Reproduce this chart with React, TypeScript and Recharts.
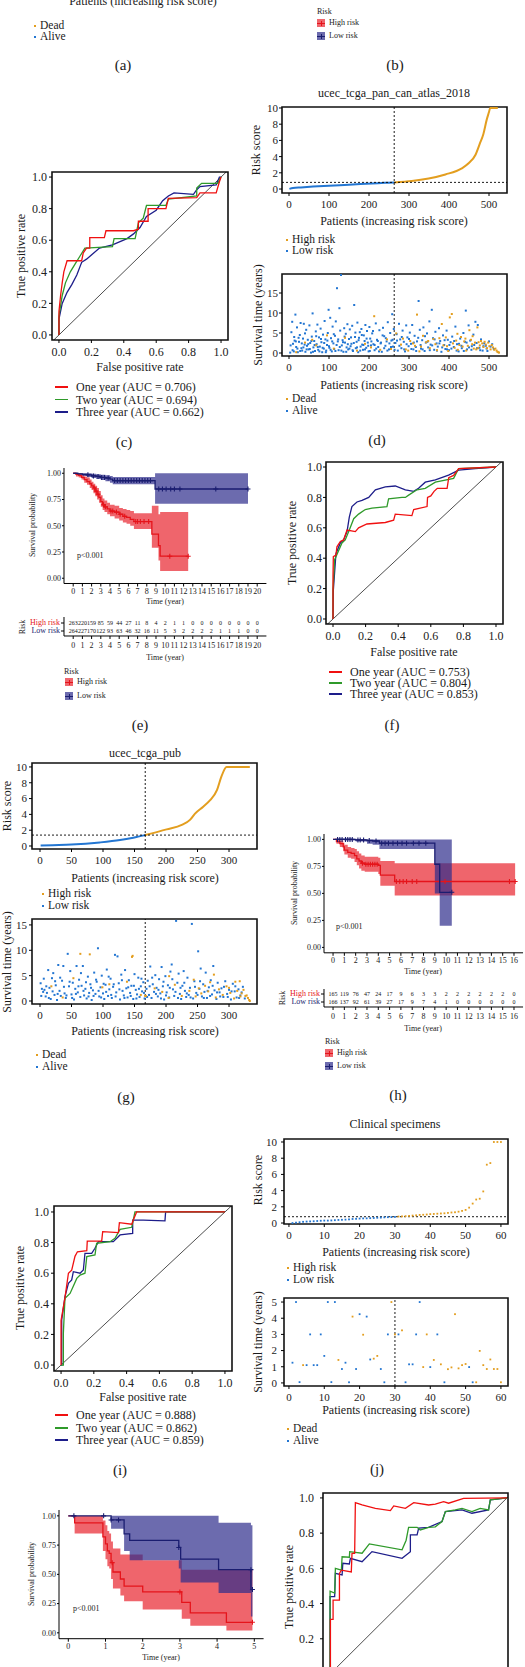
import React from "react";
import { ComposedChart, Line, Area, Scatter, XAxis, YAxis, ReferenceLine, ReferenceArea } from "recharts";

const FONT = '"Liberation Serif", "DejaVu Serif", serif';
const ORANGE = "#E39E1F";
const BLUE = "#2376D2";
const ROC_RED = "#F01010";
const ROC_GREEN = "#2F9A2A";
const ROC_NAVY = "#1D1D8A";
const KM_RED = "#E5141B";
const KM_RED_FILL = "#E8232E";
const KM_NAVY = "#1A1D70";
const KM_NAVY_FILL = "#2E2C8C";

// ---------- ticks ----------
const PAN_X_TICKS = [0, 100, 200, 300, 400, 500];
const PUB_X_TICKS = [0, 50, 100, 150, 200, 250, 300];
const CLIN_X_TICKS = [0, 10, 20, 30, 40, 50, 60];
const RISK_Y_TICKS = [0, 2, 4, 6, 8, 10];
const SURV_Y_TICKS = [0, 5, 10, 15];
const CLIN_SURV_TICKS = [0, 1, 2, 3, 4, 5];
const ROC_TICKS = [0, 0.2, 0.4, 0.6, 0.8, 1];
const ROC_TICKS_CUT = [0.2, 0.4, 0.6, 0.8, 1];
const KM_Y_TICKS = [0, 0.25, 0.5, 0.75, 1];
const E_YEARS = [0, 1, 2, 3, 4, 5, 6, 7, 8, 9, 10, 11, 12, 13, 14, 15, 16, 17, 18, 19, 20];
const H_YEARS = [0, 1, 2, 3, 4, 5, 6, 7, 8, 9, 10, 11, 12, 13, 14, 15, 16];
const K_YEARS = [0, 1, 2, 3, 4, 5];

// ---------- ROC (c) ----------
const YEAR_NAMES = ["One year", "Two year", "Three year"];
const cAuc = [0.706, 0.694, 0.662];
const cRedX = [0, 0, 0.01, 0.02, 0.03, 0.05, 0.14, 0.15, 0.17, 0.19, 0.19, 0.28, 0.29, 0.46, 0.49, 0.49, 0.55, 0.55, 0.66, 0.675, 0.85, 0.87, 0.97, 0.99, 1];
const cRedY = [0, 0.15, 0.25, 0.33, 0.4, 0.47, 0.47, 0.52, 0.55, 0.55, 0.616, 0.616, 0.66, 0.66, 0.67, 0.72, 0.72, 0.8, 0.8, 0.865, 0.87, 0.9, 0.9, 0.97, 1];
const cGreenX = [0, 0, 0.02, 0.04, 0.07, 0.1, 0.13, 0.16, 0.33, 0.34, 0.47, 0.49, 0.52, 0.54, 0.66, 0.675, 0.85, 0.85, 0.88, 0.98, 1];
const cGreenY = [0, 0.12, 0.25, 0.33, 0.4, 0.45, 0.5, 0.55, 0.56, 0.61, 0.61, 0.71, 0.74, 0.82, 0.82, 0.86, 0.88, 0.93, 0.96, 0.96, 1];
const cNavyX = [0, 0, 0.02, 0.05, 0.08, 0.11, 0.14, 0.17, 0.25, 0.33, 0.42, 0.46, 0.5, 0.54, 0.6, 0.64, 0.675, 0.71, 0.83, 0.85, 0.87, 0.97, 0.99, 1];
const cNavyY = [0, 0.1, 0.2, 0.27, 0.32, 0.38, 0.46, 0.48, 0.55, 0.57, 0.61, 0.64, 0.68, 0.75, 0.79, 0.85, 0.88, 0.9, 0.89, 0.92, 0.94, 0.95, 1, 1];

// ---------- ROC (f) ----------
const fAuc = [0.753, 0.804, 0.853];
const fRedX = [0, 0, 0.002, 0.018, 0.024, 0.045, 0.065, 0.086, 0.137, 0.157, 0.208, 0.321, 0.372, 0.382, 0.484, 0.495, 0.577, 0.58, 0.6, 0.62, 0.64, 0.7, 0.71, 0.74, 0.771, 1];
const fRedY = [0, 0.28, 0.41, 0.42, 0.475, 0.51, 0.52, 0.585, 0.575, 0.6, 0.625, 0.635, 0.65, 0.69, 0.68, 0.72, 0.74, 0.8, 0.81, 0.84, 0.86, 0.86, 0.93, 0.945, 0.99, 1];
const fGreenX = [0, 0, 0.01, 0.055, 0.075, 0.1, 0.127, 0.157, 0.198, 0.239, 0.331, 0.341, 0.423, 0.444, 0.464, 0.515, 0.566, 0.628, 0.74, 0.771, 1];
const fGreenY = [0, 0.19, 0.39, 0.5, 0.52, 0.585, 0.66, 0.69, 0.72, 0.73, 0.74, 0.79, 0.8, 0.8, 0.815, 0.85, 0.86, 0.9, 0.925, 0.99, 1];
const fNavyX = [0, 0.002, 0.018, 0.045, 0.065, 0.086, 0.1, 0.116, 0.147, 0.178, 0.219, 0.26, 0.321, 0.382, 0.444, 0.495, 0.525, 0.566, 0.628, 0.709, 0.771, 0.873, 1];
const fNavyY = [0, 0.19, 0.43, 0.5, 0.52, 0.575, 0.67, 0.74, 0.77, 0.78, 0.8, 0.85, 0.87, 0.875, 0.85, 0.84, 0.86, 0.9, 0.915, 0.947, 0.98, 0.99, 1];

// ---------- ROC (i) ----------
const iAuc = [0.888, 0.862, 0.859];
const iRedX = [0, 0, 0, 0.024, 0.045, 0.065, 0.085, 0.1, 0.157, 0.16, 0.248, 0.254, 0.35, 0.356, 0.431, 0.441, 0.461, 1];
const iRedY = [0, 0.21, 0.29, 0.44, 0.6, 0.62, 0.71, 0.74, 0.747, 0.81, 0.81, 0.871, 0.865, 0.93, 0.92, 0.947, 1, 1];
const iGreenX = [0, 0.014, 0.014, 0.024, 0.055, 0.096, 0.116, 0.146, 0.157, 0.207, 0.217, 0.299, 0.329, 0.36, 0.431, 0.451, 1];
const iGreenY = [0, 0, 0.207, 0.436, 0.468, 0.566, 0.588, 0.6, 0.708, 0.719, 0.795, 0.806, 0.828, 0.886, 0.9, 1, 1];
const iNavyX = [0, 0.004, 0.004, 0.024, 0.045, 0.065, 0.075, 0.116, 0.136, 0.146, 0.187, 0.207, 0.228, 0.319, 0.36, 0.437, 0.437, 0.502, 0.634, 0.638, 1];
const iNavyY = [0, 0, 0.294, 0.447, 0.534, 0.556, 0.61, 0.6, 0.621, 0.73, 0.73, 0.763, 0.806, 0.806, 0.85, 0.86, 0.947, 0.947, 0.942, 1, 1];

// ---------- ROC (l) ----------
const lRedX = [0.002, 0.002, 0.017, 0.017, 0.053, 0.053, 0.064, 0.12, 0.124, 0.139, 0.143, 0.181, 0.256, 0.341, 0.36, 0.426, 0.473, 0.557, 0.595, 0.642, 0.67, 0.755, 1];
const lRedY = [0, 0.31, 0.31, 0.42, 0.42, 0.571, 0.59, 0.58, 0.685, 0.685, 0.973, 0.96, 0.941, 0.928, 0.955, 0.941, 0.973, 0.96, 0.965, 0.979, 0.97, 0.998, 1];
const lGreenX = [0, 0, 0.026, 0.03, 0.064, 0.068, 0.109, 0.111, 0.181, 0.222, 0.407, 0.43, 0.444, 0.492, 0.51, 0.557, 0.595, 0.633, 0.652, 0.708, 0.746, 0.802, 0.849, 0.896, 0.906, 1];
const lGreenY = [0, 0.47, 0.46, 0.6, 0.59, 0.666, 0.663, 0.695, 0.686, 0.739, 0.705, 0.76, 0.833, 0.833, 0.818, 0.833, 0.836, 0.866, 0.922, 0.932, 0.941, 0.922, 0.941, 0.932, 0.989, 1];
const lNavyX = [0, 0, 0.026, 0.03, 0.068, 0.072, 0.109, 0.115, 0.181, 0.237, 0.407, 0.454, 0.454, 0.492, 0.501, 0.557, 0.633, 0.652, 0.746, 0.802, 0.896, 0.906, 1];
const lNavyY = [0, 0.44, 0.44, 0.572, 0.563, 0.629, 0.625, 0.657, 0.638, 0.695, 0.657, 0.695, 0.79, 0.79, 0.828, 0.833, 0.866, 0.922, 0.932, 0.913, 0.932, 0.989, 1];

// ---------- risk score curves ----------
const panLowX = [1, 10, 30, 60, 100, 150, 207, 240, 263];
const panLowY = [0.02, 0.12, 0.2, 0.3, 0.41, 0.53, 0.68, 0.76, 0.82];
const panHighX = [263, 307, 349, 391, 432, 449, 466, 477, 486, 494, 500, 503, 522];
const panHighY = [0.82, 0.99, 1.3, 1.8, 2.55, 3.17, 4.2, 5.6, 6.8, 8.5, 9.5, 10, 10];
const panCut = [263, 0.82];
const pubLowX = [1, 20, 50, 95, 127, 148, 167];
const pubLowY = [0.05, 0.1, 0.18, 0.45, 0.75, 1.05, 1.38];
const pubHighX = [167, 201, 225, 238, 246, 259, 270, 281, 288, 296, 333];
const pubHighY = [1.38, 2.1, 2.66, 3.3, 4.1, 4.98, 5.8, 7.1, 8.8, 10, 10];
const pubCut = [167, 1.38];
const clinRisk = [0.0, 0.05, 0.1, 0.15, 0.18, 0.2, 0.22, 0.25, 0.28, 0.3, 0.3, 0.32, 0.35, 0.38, 0.4, 0.42, 0.45, 0.5, 0.52, 0.55, 0.57, 0.58, 0.6, 0.62, 0.65, 0.67, 0.7, 0.72, 0.73, 0.75, 0.8, 0.82, 0.85, 0.88, 0.92, 0.95, 1.0, 1.02, 1.05, 1.1, 1.12, 1.15, 1.18, 1.2, 1.25, 1.3, 1.33, 1.4, 1.5, 1.62, 1.9, 2.4, 2.9, 3.0, 3.9, 7.2, 7.4, 10, 10, 10];
const clinCut = [30, 0.78];

// ---------- survival scatter ----------
const panAlive = [
  [3, 0.1], [6, 5.2], [8, 7.8], [10, 2.3], [12, 0.4], [14, 3.1], [16, 9.6], [18, 1.5], [20, 6.4], [22, 0.2], [25, 2.8], [27, 4.5], [29, 7.5], [31, 1.2], [33, 0.6], [35, 3.6], [37, 7.3], [39, 2.1], [41, 0.3], [43, 5.8], [45, 1.8], [47, 3.3], [49, 0.9], [51, 6.9], [53, 2.5], [55, 0.1], [57, 4.1], [59, 9.9], [61, 1.4], [63, 3.0], [65, 0.5], [67, 5.4], [69, 2.2], [71, 7.1], [73, 0.8], [75, 3.9], [77, 1.6], [79, 6.1], [81, 2.7], [83, 0.2], [85, 4.6], [87, 1.1], [89, 8.0], [91, 3.4], [93, 0.6], [95, 2.0], [97, 5.0], [99, 10.8], [101, 1.3], [103, 8.8], [105, 3.7], [107, 0.4], [109, 6.6], [111, 2.4], [113, 1.0], [115, 4.3], [117, 7.9], [120, 16.2], [122, 2.9], [124, 0.7], [126, 11.2], [128, 5.6], [130, 19.5], [132, 1.9], [134, 3.2], [136, 0.3], [138, 6.2], [140, 2.6], [142, 4.8], [144, 1.4], [146, 7.2], [148, 0.9], [150, 3.5], [152, 5.9], [154, 1.7], [156, 2.3], [158, 6.8], [160, 0.5], [163, 12.0], [165, 4.0], [167, 1.2], [169, 2.8], [171, 7.6], [173, 0.2], [175, 3.8], [177, 5.2], [179, 1.6], [181, 6.0], [183, 2.1], [185, 0.8], [187, 4.4], [189, 3.0], [191, 7.0], [193, 1.3], [195, 5.5], [197, 2.6], [199, 0.4], [201, 6.5], [203, 3.6], [205, 1.9], [208, 4.9], [211, 2.2], [214, 0.7], [217, 7.4], [220, 3.3], [223, 1.5], [226, 5.7], [229, 2.4], [232, 0.3], [235, 6.3], [238, 4.2], [241, 1.8], [244, 2.9], [247, 7.7], [250, 0.9], [253, 5.0], [256, 3.1], [258, 9.7], [260, 1.6], [262, 6.0],
  [266, 2.5], [269, 4.7], [272, 0.6], [275, 7.3], [278, 3.4], [281, 1.2], [284, 5.6], [287, 2.8], [290, 0.4], [293, 6.9], [296, 3.9], [299, 1.7], [302, 5.1], [305, 2.3], [308, 7.0], [311, 0.9], [314, 4.3], [317, 1.5], [320, 2.9], [324, 13.0], [327, 5.8], [330, 1.1], [333, 3.2], [336, 6.4], [339, 0.5], [342, 2.6], [345, 4.9], [348, 1.4], [351, 7.9], [354, 2.1], [357, 10.8], [360, 3.7], [363, 0.8], [366, 5.3], [369, 2.4], [372, 1.6], [375, 6.2], [378, 3.0], [381, 0.3], [385, 4.4], [388, 2.0], [391, 1.0], [394, 5.6], [397, 3.3], [400, 0.7], [404, 2.7], [408, 4.1], [412, 1.5], [416, 6.6], [420, 2.2], [424, 0.4], [428, 3.6], [432, 1.2], [436, 5.0], [440, 2.8], [442, 10.6], [445, 0.9], [449, 6.9], [453, 3.1], [457, 1.7], [461, 4.6], [466, 7.8], [469, 2.5], [472, 7.0], [476, 1.3], [480, 3.4], [484, 0.6], [488, 2.4], [492, 1.8], [496, 0.5], [500, 2.9], [504, 1.6], [508, 2.2], [512, 1.0],
  [4, 1.9], [9, 0.7], [13, 4.0], [17, 2.9], [21, 1.1], [24, 3.8], [28, 0.5], [32, 2.4], [36, 1.4], [40, 4.9], [44, 0.9], [48, 2.2], [52, 1.0], [56, 3.0], [60, 0.3], [64, 2.0], [68, 4.2], [72, 1.5], [76, 0.4], [80, 3.5], [84, 1.3], [88, 2.5], [92, 0.2], [96, 3.1], [100, 1.7], [104, 0.8], [108, 2.9], [112, 4.7], [116, 0.5], [119, 2.0], [123, 3.4], [127, 1.5], [131, 0.6], [135, 2.7], [139, 4.1], [143, 0.3], [147, 2.2], [151, 1.1], [155, 3.9], [159, 0.7], [162, 2.5], [166, 5.1], [170, 1.4], [174, 3.2], [178, 0.6], [182, 4.5], [186, 2.0], [190, 0.9], [194, 3.6], [198, 1.8], [202, 0.5], [206, 2.9], [210, 5.5], [214, 2.0], [218, 1.1], [222, 3.0], [225, 0.4], [230, 2.6], [234, 4.4], [238, 1.2], [242, 3.7], [246, 0.6], [251, 2.4], [255, 1.5], [259, 3.3],
  [264, 0.8], [270, 3.1], [276, 1.8], [282, 4.0], [288, 0.9], [294, 2.2], [300, 3.5], [306, 1.0], [312, 2.6], [318, 0.5], [323, 3.8], [329, 2.0], [334, 0.9], [340, 4.2], [346, 2.8], [352, 0.7], [358, 1.9], [364, 3.4], [370, 0.6], [376, 2.4], [383, 1.4], [389, 3.2], [395, 0.9], [401, 2.0], [406, 1.1], [413, 3.0], [419, 0.6], [425, 2.3], [431, 1.8], [437, 0.5], [444, 2.6], [450, 1.4], [456, 0.8], [463, 2.0], [470, 1.2], [478, 0.7], [486, 1.7], [494, 1.1],
];
const panDead = [
  [18, 0.2], [40, 2.6], [58, 3.3], [68, 1.9], [95, 4.4], [112, 1.1], [140, 3.8], [170, 0.6], [190, 2.3], [205, 1.4], [213, 9.2], [228, 0.8], [245, 3.4], [255, 1.0],
  [268, 4.9], [280, 2.1], [292, 0.9], [303, 3.0], [315, 1.8], [320, 9.6], [326, 0.4], [335, 4.3], [343, 2.7], [352, 1.2], [361, 3.5], [370, 0.7], [376, 3.7], [382, 7.25], [386, 1.9], [392, 3.9], [398, 0.5], [402, 8.9], [407, 9.75], [410, 2.4], [414, 1.3], [418, 3.1], [422, 0.8], [426, 2.0], [430, 4.0], [434, 1.6], [438, 2.9], [443, 0.6], [447, 1.8], [451, 5.7], [455, 3.3], [458, 2.2], [462, 1.1], [465, 2.6], [468, 0.9], [471, 6.4], [474, 2.7], [477, 1.9], [480, 3.0], [483, 2.4], [486, 1.5], [489, 2.8], [492, 2.1], [495, 1.2], [498, 2.6], [501, 1.7], [504, 0.9], [507, 2.0], [510, 1.4], [513, 0.8], [516, 1.1], [519, 0.6], [521, 0.3], [523, 0.2], [525, 0.1],
  [285, 3.6], [298, 0.6], [310, 2.4], [330, 1.6], [348, 3.0], [366, 2.2], [395, 1.7], [421, 4.8], [441, 3.6], [459, 4.2], [473, 1.2],
];
const pubAlive = [
  [1, 3.5], [3, 2.4], [5, 1.8], [7, 2.2], [9, 0.9], [11, 1.6], [13, 6.1], [15, 2.6], [17, 0.4], [19, 4.5], [21, 5.5], [23, 1.2], [25, 3.1], [27, 0.2], [29, 7.1], [31, 2.0], [33, 1.0], [35, 4.0], [37, 6.9], [39, 1.5], [41, 0.6], [44, 9.3], [46, 2.9], [48, 5.9], [50, 1.3], [52, 3.6], [54, 0.3], [56, 2.4], [58, 6.9], [60, 1.7], [62, 4.2], [64, 0.8], [66, 3.0], [68, 6.9], [70, 1.1], [72, 2.4], [74, 0.5], [76, 4.8], [78, 1.6], [80, 3.3], [82, 0.2], [84, 2.1], [86, 5.6], [88, 1.4], [90, 3.8], [92, 10.4], [94, 0.9], [96, 2.7], [98, 5.0], [100, 1.5], [102, 0.4], [104, 3.2], [106, 6.2], [108, 1.0], [110, 2.3], [112, 4.4], [114, 0.6], [116, 2.8], [119, 9.1], [121, 1.7], [123, 8.8], [125, 3.5], [127, 0.3], [129, 5.2], [131, 2.0], [133, 1.1], [135, 6.1], [137, 2.5], [139, 0.7], [141, 4.1], [143, 1.6], [145, 3.0], [148, 0.4], [150, 5.3], [152, 2.2], [154, 1.3], [156, 4.6], [158, 0.8], [160, 2.9], [162, 1.9], [164, 3.7], [166, 0.5],
  [169, 2.4], [171, 4.0], [173, 1.2], [175, 6.8], [177, 0.6], [179, 3.3], [181, 1.8], [183, 5.1], [185, 2.6], [187, 0.9], [189, 4.3], [191, 1.5], [193, 6.7], [195, 2.9], [197, 0.3], [199, 4.9], [201, 1.7], [203, 3.1], [205, 0.7], [207, 5.8], [209, 7.2], [211, 2.3], [213, 1.0], [216, 15.8], [218, 3.6], [220, 5.4], [222, 1.4], [224, 0.4], [226, 3.0], [228, 5.9], [230, 2.0], [232, 0.8], [234, 4.6], [236, 1.2], [238, 2.6], [241, 15.2], [243, 0.5], [245, 3.9], [248, 1.6], [251, 9.8], [253, 2.4], [255, 6.4], [257, 0.9], [259, 3.3], [261, 1.8], [263, 5.6], [265, 0.6], [268, 2.7], [271, 4.1], [273, 1.3], [275, 6.9], [277, 2.1], [280, 0.4], [282, 3.6], [285, 1.7], [288, 2.5], [291, 0.8], [294, 3.9], [297, 1.4], [300, 2.2], [303, 0.3], [306, 3.4], [309, 1.9], [312, 0.7], [315, 2.3], [318, 1.1], [322, 2.8], [325, 0.5],
  [2, 1.0], [6, 4.4], [10, 2.9], [14, 0.6], [20, 1.9], [24, 3.9], [28, 1.4], [32, 4.6], [38, 2.8], [42, 1.1], [47, 3.8], [51, 0.6], [57, 1.4], [61, 2.9], [65, 5.5], [69, 2.0], [73, 3.7], [77, 0.9], [81, 2.6], [85, 1.0], [89, 4.2], [93, 2.0], [97, 0.7], [101, 3.4], [105, 1.8], [109, 4.8], [113, 1.2], [117, 3.3], [120, 0.9], [126, 2.3], [130, 4.1], [134, 0.6], [140, 2.7], [144, 1.0], [149, 3.0], [153, 0.5], [157, 2.4], [161, 4.4], [165, 1.6], [170, 0.8], [174, 2.9], [178, 4.6], [184, 1.4], [188, 2.2], [192, 0.5], [196, 3.8], [200, 1.1], [206, 2.6], [210, 4.3], [215, 1.8], [219, 0.6], [223, 2.6], [229, 3.6], [233, 1.5], [239, 0.7], [246, 2.8], [250, 1.2], [254, 3.9], [260, 0.6], [266, 2.0], [270, 1.0], [274, 3.0], [281, 1.7], [286, 0.9], [292, 2.8], [298, 0.8], [304, 1.9], [310, 2.9], [316, 0.6], [320, 1.7],
];
const pubDead = [
  [18, 2.9], [36, 0.7], [53, 4.5], [64, 9.3], [79, 9.2], [99, 2.7], [110, 3.3], [138, 3.8], [146, 8.7], [147, 8.9], [160, 1.2], [167, 1.0], [168, 1.0], [182, 2.5], [194, 1.8], [204, 0.6], [214, 3.2], [225, 1.0], [237, 2.0], [244, 4.2], [247, 0.9], [256, 1.5], [262, 3.0], [267, 1.9], [276, 5.2], [279, 0.7], [284, 2.3], [290, 1.2], [296, 2.9], [302, 1.6], [308, 0.5], [313, 2.0], [317, 3.9], [320, 1.5], [323, 2.2], [326, 1.0], [328, 1.1], [330, 0.6], [332, 0.2], [333, 0.0],
  [205, 4.9], [252, 2.5], [270, 3.7], [300, 2.6], [310, 3.8], [318, 0.9],
];
const clinSurv = [1.25, 5.0, 0.05, 1.1, 1.1, 3.0, 1.1, 1.1, 3.0, 1.67, 5.0, 0.05, 5.0, 1.42, 0.86, 1.25, 0.04, 4.1, 0.86, 4.25, 2.98, 4.1, 1.45, 1.5, 1.67, 0.86, 0.04, 3.0, 5.0, 3.0, 3.0, 3.25, 0.04, 1.15, 1.15, 3.0, 5.0, 0.98, 3.0, 0.98, 1.42, 3.0, 1.15, 0.04, 0.85, 0.96, 4.25, 0.9, 1.1, 1.17, 0.98, 0.04, 0.04, 1.98, 1.1, 0.86, 1.45, 0.86, 0.86, 0.04];
const clinDead = [0, 0, 0, 1, 0, 0, 0, 0, 0, 0, 0, 0, 0, 1, 0, 0, 0, 1, 0, 0, 1, 0, 0, 1, 1, 0, 0, 0, 1, 1, 0, 1, 0, 0, 0, 0, 0, 1, 1, 0, 1, 0, 1, 0, 1, 1, 1, 1, 1, 1, 0, 0, 1, 1, 1, 1, 1, 1, 1, 1];

// ---------- Kaplan-Meier (e) ----------
const eHighT = [0, 0.3, 0.6, 0.9, 1.2, 1.5, 1.8, 2.0, 2.2, 2.4, 2.6, 2.8, 3.0, 3.2, 3.4, 3.7, 4.0, 4.5, 5.0, 5.4, 5.8, 6.2, 6.6, 8.55, 9.27, 9.45, 12.5];
const eHighS = [1, 0.99, 0.98, 0.96, 0.94, 0.92, 0.9, 0.88, 0.86, 0.83, 0.8, 0.77, 0.73, 0.7, 0.68, 0.66, 0.64, 0.63, 0.61, 0.59, 0.58, 0.56, 0.54, 0.42, 0.31, 0.21, 0.21];
const eHighLo = [1, 0.97, 0.96, 0.94, 0.91, 0.89, 0.86, 0.84, 0.81, 0.78, 0.75, 0.72, 0.68, 0.65, 0.63, 0.61, 0.59, 0.57, 0.55, 0.53, 0.52, 0.5, 0.47, 0.29, 0.17, 0.07, 0.07];
const eHighHi = [1, 1, 1, 0.99, 0.97, 0.96, 0.94, 0.92, 0.9, 0.88, 0.86, 0.83, 0.79, 0.76, 0.74, 0.72, 0.7, 0.69, 0.67, 0.66, 0.65, 0.64, 0.62, 0.69, 0.61, 0.63, 0.63];
const eLowT = [0, 0.5, 1, 1.5, 2, 2.5, 3, 3.5, 4, 4.3, 8.9, 19];
const eLowS = [1, 0.995, 0.99, 0.985, 0.975, 0.97, 0.96, 0.955, 0.945, 0.93, 0.85, 0.85];
const eLowLo = [1, 0.985, 0.975, 0.965, 0.955, 0.945, 0.935, 0.925, 0.91, 0.895, 0.71, 0.71];
const eLowHi = [1, 1, 1, 1, 0.995, 0.99, 0.985, 0.98, 0.975, 0.965, 1, 1];
const eHighCens = [[2.3, 0.86], [2.5, 0.83], [2.7, 0.8], [3.3, 0.7], [3.5, 0.68], [4.1, 0.64], [4.3, 0.64], [4.7, 0.63], [5.1, 0.61], [5.6, 0.59], [6.8, 0.54], [7.0, 0.54], [7.3, 0.54], [7.7, 0.54], [8.2, 0.54], [10.5, 0.21], [12.5, 0.21]];
const eLowCens = [[1.6, 0.985], [2.2, 0.975], [2.7, 0.97], [3.1, 0.96], [3.4, 0.96], [3.8, 0.955], [4.5, 0.93], [4.8, 0.93], [5.1, 0.93], [5.4, 0.93], [5.7, 0.93], [6.0, 0.93], [6.3, 0.93], [6.6, 0.93], [6.9, 0.93], [7.2, 0.93], [7.5, 0.93], [7.8, 0.93], [8.1, 0.93], [8.4, 0.93], [9.3, 0.85], [9.7, 0.85], [10.1, 0.85], [10.6, 0.85], [11.0, 0.85], [11.6, 0.85], [15.5, 0.85], [19, 0.85]];
const eAtRiskHigh = [263, 220, 159, 85, 59, 44, 27, 11, 8, 4, 2, 1, 1, 0, 0, 0, 0, 0, 0, 0, 0];
const eAtRiskLow = [264, 227, 170, 122, 93, 63, 46, 32, 16, 11, 5, 3, 2, 2, 2, 2, 1, 1, 1, 0, 0];

// ---------- Kaplan-Meier (h) ----------
const hHighT = [0, 0.3, 0.6, 0.9, 1.0, 1.3, 1.6, 1.9, 2.1, 2.3, 2.5, 2.8, 4.0, 4.18, 5.45, 16.1];
const hHighS = [1, 0.98, 0.96, 0.93, 0.9, 0.88, 0.87, 0.85, 0.82, 0.8, 0.78, 0.77, 0.76, 0.67, 0.61, 0.61];
const hHighLo = [1, 0.96, 0.93, 0.89, 0.86, 0.83, 0.82, 0.79, 0.76, 0.73, 0.71, 0.7, 0.68, 0.57, 0.48, 0.48];
const hHighHi = [1, 1, 0.99, 0.97, 0.95, 0.93, 0.92, 0.91, 0.89, 0.87, 0.85, 0.84, 0.83, 0.8, 0.78, 0.78];
const hLowT = [0, 1, 2, 3, 3.5, 4.1, 9.0, 9.43, 10.5];
const hLowS = [1, 1, 0.995, 0.99, 0.985, 0.965, 0.77, 0.51, 0.51];
const hLowLo = [1, 0.99, 0.98, 0.96, 0.95, 0.91, 0.5, 0.2, 0.2];
const hLowHi = [1, 1, 1, 1, 1, 1, 1, 1, 1];
const hHighCens = [[2.6, 0.78], [2.9, 0.77], [3.1, 0.77], [3.3, 0.77], [3.5, 0.77], [3.7, 0.77], [3.9, 0.77], [5.6, 0.61], [5.9, 0.61], [6.2, 0.61], [6.5, 0.61], [7.0, 0.61], [7.4, 0.61], [9.9, 0.61], [15.6, 0.61], [16.1, 0.61]];
const hLowCens = [[0.4, 1], [0.6, 1], [0.8, 1], [1.1, 1], [1.3, 1], [1.5, 1], [1.7, 1], [2.2, 0.995], [2.4, 0.995], [2.7, 0.995], [3.2, 0.99], [3.8, 0.985], [4.3, 0.965], [4.6, 0.965], [4.9, 0.965], [5.3, 0.965], [5.7, 0.965], [6.1, 0.965], [6.5, 0.965], [7.1, 0.965], [7.6, 0.965], [8.2, 0.965], [10.5, 0.51]];
const hAtRiskHigh = [165, 119, 76, 47, 24, 17, 9, 6, 3, 3, 2, 2, 2, 2, 2, 2, 0];
const hAtRiskLow = [166, 137, 92, 61, 39, 27, 17, 9, 7, 4, 1, 0, 0, 0, 0, 0, 0];

// ---------- Kaplan-Meier (k) ----------
const kHighT = [0, 0.17, 0.93, 1.0, 1.05, 1.1, 1.15, 1.2, 1.4, 1.5, 2.0, 3.05, 3.28, 4.25, 4.95];
const kHighS = [1, 0.94, 0.82, 0.76, 0.7, 0.68, 0.6, 0.52, 0.46, 0.4, 0.35, 0.26, 0.17, 0.09, 0.09];
const kHighLo = [1, 0.85, 0.7, 0.63, 0.57, 0.55, 0.46, 0.38, 0.32, 0.27, 0.2, 0.12, 0.06, 0.02, 0.02];
const kHighHi = [1, 1, 0.96, 0.92, 0.87, 0.85, 0.78, 0.72, 0.67, 0.67, 0.62, 0.54, 0.54, 0.54, 0.54];
const kLowT = [0, 1.15, 1.5, 1.65, 2.97, 3.02, 4.04, 4.91, 4.95];
const kLowS = [1, 0.965, 0.846, 0.79, 0.73, 0.63, 0.54, 0.37, 0.37];
const kLowLo = [1, 0.89, 0.7, 0.62, 0.55, 0.43, 0.34, 0.14, 0.14];
const kLowHi = [1, 1, 1, 1, 1, 1, 0.94, 0.92, 0.92];
const kHighCens = [[1.18, 0.6], [3.0, 0.35], [4.95, 0.09]];
const kLowCens = [[0.15, 1], [0.95, 1], [1.15, 0.965], [1.35, 0.965], [2.97, 0.73], [4.91, 0.54], [4.95, 0.37]];

// ---------- helpers ----------
const pts = (xs: number[], ys: number[]) => xs.map((x, i) => ({ x, y: ys[i] }));
const pairs = (arr: number[][]) => arr.map(([x, y]) => ({ x, y }));
const km = (t: number[], s: number[], lo: number[], hi: number[]) => t.map((x, i) => ({ x, y: s[i], band: [lo[i], hi[i]] }));
const row = (years: number[], counts: number[], y: number) => years.map((x, i) => ({ x, y, n: counts[i] }));

const sq = (color: string, s = 2) => (p: any) => <rect x={p.cx - s / 2} y={p.cy - s / 2} width={s} height={s} fill={color} />;
const plus = (color: string) => (p: any) => (
  <path d={`M${p.cx - 2.5},${p.cy}h5M${p.cx},${p.cy - 2.5}v5`} stroke={color} strokeWidth={1.1} fill="none" />
);
const num = (p: any) => (
  <text x={p.cx} y={p.cy} textAnchor="middle" dominantBaseline="central" fontSize={6} fill="#111">
    {p.payload ? p.payload.n : p.n}
  </text>
);

type F = { x0: number; y0: number; x1: number; y1: number; L: number; B: number };

function Chart({ f, children }: { f: F; children: React.ReactNode }) {
  const T = 4;
  const R = 4;
  return (
    <div style={{ position: "absolute", left: f.x0 - f.L, top: f.y0 - T }}>
      <ComposedChart width={f.x1 - f.x0 + f.L + R} height={f.y1 - f.y0 + T + f.B} margin={{ top: T, right: R, bottom: 0, left: 0 }}>
        {children}
      </ComposedChart>
    </div>
  );
}

const Txt = ({ x, y, s = 12, c = "#1a1a1a", a = "middle", rot = false, children }: any) => (
  <div
    style={{
      position: "absolute",
      left: x,
      top: y,
      fontSize: s,
      color: c,
      lineHeight: 1,
      whiteSpace: "nowrap",
      transform: rot
        ? "translate(-50%,-50%) rotate(-90deg)"
        : `translate(${a === "middle" ? "-50%" : a === "end" ? "-100%" : "0"},-50%)`,
    }}
  >
    {children}
  </div>
);

const DotKey = ({ x, y, color, label }: any) => (
  <>
    <div style={{ position: "absolute", left: x - 1, top: y - 1, width: 2.2, height: 2.2, background: color }} />
    <Txt x={x + 5} y={y} a="start" s={11.5}>{label}</Txt>
  </>
);

const LineKey = ({ x, y, color, label }: any) => (
  <>
    <div style={{ position: "absolute", left: x, top: y - 0.7, width: 13, height: 1.4, background: color }} />
    <Txt x={x + 21} y={y} a="start">{label}</Txt>
  </>
);

const BandKey = ({ x, y, fill, line, label }: any) => (
  <>
    <div style={{ position: "absolute", left: x, top: y - 4, width: 8, height: 8, background: fill, opacity: 0.7 }} />
    <div style={{ position: "absolute", left: x, top: y - 0.5, width: 8, height: 1, background: line }} />
    <div style={{ position: "absolute", left: x + 3.5, top: y - 2.5, width: 1, height: 5, background: line }} />
    <Txt x={x + 12} y={y} a="start" s={8}>{label}</Txt>
  </>
);

const frameBox = (yDom: number[]) => (
  <ReferenceArea y1={yDom[0]} y2={yDom[1]} fill="none" stroke="#111" strokeWidth={1.6} ifOverflow="visible" />
);

function boxAxes(f: F, xDom: number[], xTicks: number[], yDom: number[], yTicks: number[], size: number, ym: number, fmt?: (v: number) => string, hideX = false) {
  return [
    <XAxis key="xa" type="number" dataKey="x" domain={xDom} ticks={xTicks} interval={0} allowDataOverflow height={f.B}
      axisLine={false} tickLine={hideX ? false : { stroke: "#000" }} tickSize={3} tickMargin={4}
      tick={hideX ? false : { fontSize: size, fill: "#222" }} tickFormatter={fmt} />,
    <YAxis key="ya" type="number" dataKey="y" domain={yDom} ticks={yTicks} interval={0} allowDataOverflow width={f.L}
      axisLine={false} tickLine={{ stroke: "#000" }} tickSize={3} tickMargin={ym} tick={{ fontSize: size, fill: "#222" }} tickFormatter={fmt} />,
  ];
}

function RocPanel({ f, xDom, yDom, ym, reds, greens, navys, yTicks = ROC_TICKS, hideX = false }: any) {
  const fmt = (v: number) => v.toFixed(1);
  return (
    <Chart f={f}>
      {boxAxes(f, xDom, ROC_TICKS, yDom, yTicks, 12, ym, fmt, hideX)}
      <ReferenceLine segment={[{ x: -0.06, y: -0.06 }, { x: 1.06, y: 1.06 }]} stroke="#000" strokeWidth={0.7} ifOverflow="hidden" />
      <Line data={navys} dataKey="y" type="linear" stroke={ROC_NAVY} strokeWidth={1.3} dot={false} isAnimationActive={false} />
      <Line data={greens} dataKey="y" type="linear" stroke={ROC_GREEN} strokeWidth={1.3} dot={false} isAnimationActive={false} />
      <Line data={reds} dataKey="y" type="linear" stroke={ROC_RED} strokeWidth={1.3} dot={false} isAnimationActive={false} />
      {frameBox(yDom)}
    </Chart>
  );
}

function KmPanel({ f, xDom, xTicks, high, low, highCens, lowCens }: any) {
  return (
    <Chart f={f}>
      <XAxis type="number" dataKey="x" domain={xDom} ticks={xTicks} interval={0} allowDataOverflow height={f.B}
        axisLine={{ stroke: "#000" }} tickLine={{ stroke: "#000" }} tickSize={3} tickMargin={2} tick={{ fontSize: 8, fill: "#222" }} />
      <YAxis type="number" dataKey="y" domain={[-0.05, 1.05]} ticks={KM_Y_TICKS} interval={0} allowDataOverflow width={f.L}
        axisLine={{ stroke: "#000" }} tickLine={{ stroke: "#000" }} tickSize={2} tickMargin={1} tick={{ fontSize: 8, fill: "#222" }}
        tickFormatter={(v: number) => v.toFixed(2)} />
      <Area data={high} dataKey="band" type="stepAfter" fill={KM_RED_FILL} fillOpacity={0.7} stroke="none" isAnimationActive={false} />
      <Area data={low} dataKey="band" type="stepAfter" fill={KM_NAVY_FILL} fillOpacity={0.7} stroke="none" isAnimationActive={false} />
      <Line data={high} dataKey="y" type="stepAfter" stroke={KM_RED} strokeWidth={1.3} dot={false} isAnimationActive={false} />
      <Line data={low} dataKey="y" type="stepAfter" stroke={KM_NAVY} strokeWidth={1.3} dot={false} isAnimationActive={false} />
      <Scatter data={highCens} shape={plus(KM_RED)} isAnimationActive={false} />
      <Scatter data={lowCens} shape={plus(KM_NAVY)} isAnimationActive={false} />
    </Chart>
  );
}

function RiskTable({ f, xDom, years, highN, lowN, yDom }: any) {
  return (
    <Chart f={f}>
      <XAxis type="number" dataKey="x" domain={xDom} ticks={years} interval={0} allowDataOverflow height={f.B}
        axisLine={{ stroke: "#000" }} tickLine={{ stroke: "#000" }} tickSize={3} tickMargin={3} tick={{ fontSize: 8, fill: "#222" }} />
      <YAxis type="number" dataKey="y" domain={yDom} ticks={[1, 2]} interval={0} allowDataOverflow width={f.L}
        axisLine={{ stroke: "#000" }} tickLine={{ stroke: "#000" }} tickSize={3} tickMargin={1}
        tick={(p: any) => (
          <text x={p.x} y={p.y} textAnchor="end" dominantBaseline="central" fontSize={8} fill={p.payload.value === 2 ? KM_RED : KM_NAVY}>
            {p.payload.value === 2 ? "High risk" : "Low risk"}
          </text>
        )} />
      <Scatter data={row(years, highN, 2)} shape={num} isAnimationActive={false} />
      <Scatter data={row(years, lowN, 1)} shape={num} isAnimationActive={false} />
    </Chart>
  );
}

// ---------- frames ----------
const fD1: F = { x0: 282, y0: 107, x1: 507, y1: 193, L: 28, B: 20 };
const fD2: F = { x0: 282, y0: 274, x1: 507, y1: 356, L: 28, B: 20 };
const fC: F = { x0: 52, y0: 172, x1: 228, y1: 340, L: 40, B: 22 };
const fF: F = { x0: 326, y0: 462, x1: 503, y1: 624, L: 40, B: 22 };
const fE: F = { x0: 63.8, y0: 467.75, x1: 266.2, y1: 583.25, L: 30, B: 14 };
const fET: F = { x0: 63.8, y0: 617, x1: 266.2, y1: 636, L: 36, B: 14 };
const fG1: F = { x0: 32, y0: 763, x1: 257, y1: 849, L: 28, B: 20 };
const fG2: F = { x0: 32, y0: 919, x1: 257, y1: 1004, L: 28, B: 20 };
const fH: F = { x0: 323.95, y0: 833.6, x1: 523, y1: 952.4, L: 30, B: 14 };
const fHT: F = { x0: 323.95, y0: 989, x1: 523, y1: 1007, L: 36, B: 14 };
const fI: F = { x0: 54, y0: 1206, x1: 232, y1: 1371, L: 40, B: 22 };
const fJ1: F = { x0: 284, y0: 1139, x1: 508, y1: 1224, L: 30, B: 20 };
const fJ2: F = { x0: 284, y0: 1298, x1: 508, y1: 1386, L: 30, B: 20 };
const fK: F = { x0: 58.7, y0: 1510.15, x1: 263.3, y1: 1638.85, L: 30, B: 14 };
const fL: F = { x0: 323, y0: 1493, x1: 508, y1: 1680, L: 44, B: 22 };

export default function App() {
  const panDom = [-17.5, 545];
  const pubDom = [-12.7, 344.4];
  const clinDom = [-1.4, 62];
  const clinIdx = clinRisk.map((_, i) => i + 1);
  const clinLow = clinRisk.slice(0, clinCut[0]).map((y, i) => ({ x: i + 1, y }));
  const clinHigh = clinRisk.slice(clinCut[0]).map((y, i) => ({ x: i + 1 + clinCut[0], y }));
  const clinAlive = clinIdx.filter((_, i) => !clinDead[i]).map((x) => ({ x, y: clinSurv[x - 1] }));
  const clinDeadPts = clinIdx.filter((_, i) => clinDead[i]).map((x) => ({ x, y: clinSurv[x - 1] }));
  const cut = (c: number[]) => [
    <ReferenceLine key="cx" x={c[0]} stroke="#000" strokeWidth={0.9} strokeDasharray="2 2" />,
  ];

  return (
    <div style={{ position: "absolute", left: 0, top: 0, width: 525, height: 1667, overflow: "hidden", background: "#fff", fontFamily: FONT, color: "#1a1a1a" }}>
      {/* tails of (a) and (b) */}
      <Txt x={143} y={1}>Patients (increasing risk score)</Txt>
      <DotKey x={35} y={25.5} color={ORANGE} label="Dead" />
      <DotKey x={35} y={36.5} color={BLUE} label="Alive" />
      <Txt x={123} y={65} s={15}>(a)</Txt>
      <Txt x={317} y={12} s={8} a="start">Risk</Txt>
      <BandKey x={317} y={23} fill={KM_RED_FILL} line={KM_RED} label="High risk" />
      <BandKey x={317} y={36} fill={KM_NAVY_FILL} line={KM_NAVY} label="Low risk" />
      <Txt x={395} y={65} s={15}>(b)</Txt>

      {/* (c) ROC */}
      <RocPanel f={fC} xDom={[-0.043, 1.043]} yDom={[-0.032, 1.032]} ym={2}
        reds={pts(cRedX, cRedY)} greens={pts(cGreenX, cGreenY)} navys={pts(cNavyX, cNavyY)} />
      <Txt x={21} y={256} rot>True positive rate</Txt>
      <Txt x={140} y={367}>False positive rate</Txt>
      <LineKey x={55} y={387} color={ROC_RED} label={`${YEAR_NAMES[0]} (AUC = ${cAuc[0].toFixed(3)})`} />
      <LineKey x={55} y={399.5} color={ROC_GREEN} label={`${YEAR_NAMES[1]} (AUC = ${cAuc[1].toFixed(3)})`} />
      <LineKey x={55} y={412} color={ROC_NAVY} label={`${YEAR_NAMES[2]} (AUC = ${cAuc[2].toFixed(3)})`} />
      <Txt x={124} y={442} s={15}>(c)</Txt>

      {/* (d) pan-cancer atlas */}
      <Txt x={394} y={93}>ucec_tcga_pan_can_atlas_2018</Txt>
      <Chart f={fD1}>
        {boxAxes(fD1, panDom, PAN_X_TICKS, [-0.49, 10.12], RISK_Y_TICKS, 11, 1)}
        <Line data={pts(panLowX, panLowY)} dataKey="y" type="monotone" stroke={BLUE} strokeWidth={2} dot={false} isAnimationActive={false} />
        <Line data={pts(panHighX, panHighY)} dataKey="y" type="monotone" stroke={ORANGE} strokeWidth={2} dot={false} isAnimationActive={false} />
        {cut(panCut)}
        <ReferenceLine y={panCut[1]} stroke="#000" strokeWidth={0.9} strokeDasharray="2 2" />
        {frameBox([-0.49, 10.12])}
      </Chart>
      <Txt x={256} y={150} rot>Risk score</Txt>
      <Txt x={394} y={221}>Patients (increasing risk score)</Txt>
      <DotKey x={287} y={240} color={ORANGE} label="High risk" />
      <DotKey x={287} y={251} color={BLUE} label="Low risk" />
      <Chart f={fD2}>
        {boxAxes(fD2, panDom, PAN_X_TICKS, [-0.75, 19.75], SURV_Y_TICKS, 11, 1)}
        {cut(panCut)}
        <Scatter data={pairs(panAlive)} shape={sq(BLUE)} isAnimationActive={false} />
        <Scatter data={pairs(panDead)} shape={sq(ORANGE)} isAnimationActive={false} />
        {frameBox([-0.75, 19.75])}
      </Chart>
      <Txt x={258} y={315} rot>Survival time (years)</Txt>
      <Txt x={394} y={385}>Patients (increasing risk score)</Txt>
      <DotKey x={287} y={399} color={ORANGE} label="Dead" />
      <DotKey x={287} y={410.5} color={BLUE} label="Alive" />
      <Txt x={377} y={440} s={15}>(d)</Txt>

      {/* (e) KM */}
      <KmPanel f={fE} xDom={[-1, 21]} xTicks={E_YEARS} high={km(eHighT, eHighS, eHighLo, eHighHi)} low={km(eLowT, eLowS, eLowLo, eLowHi)}
        highCens={pairs(eHighCens)} lowCens={pairs(eLowCens)} />
      <Txt x={33} y={525} s={8} rot>Survival probability</Txt>
      <Txt x={77} y={556} s={8} a="start">p&lt;0.001</Txt>
      <Txt x={165} y={602} s={8}>Time (year)</Txt>
      <RiskTable f={fET} xDom={[-1, 21]} years={E_YEARS} highN={eAtRiskHigh} lowN={eAtRiskLow} yDom={[0.375, 2.75]} />
      <Txt x={23} y={627} s={8} rot>Risk</Txt>
      <Txt x={165} y={658} s={8}>Time (year)</Txt>
      <Txt x={64} y={672} s={8} a="start">Risk</Txt>
      <BandKey x={65} y={682} fill={KM_RED_FILL} line={KM_RED} label="High risk" />
      <BandKey x={65} y={696} fill={KM_NAVY_FILL} line={KM_NAVY} label="Low risk" />
      <Txt x={140} y={725} s={15}>(e)</Txt>

      {/* (f) ROC */}
      <RocPanel f={fF} xDom={[-0.043, 1.043]} yDom={[-0.033, 1.033]} ym={1}
        reds={pts(fRedX, fRedY)} greens={pts(fGreenX, fGreenY)} navys={pts(fNavyX, fNavyY)} />
      <Txt x={292} y={543} rot>True positive rate</Txt>
      <Txt x={414} y={652}>False positive rate</Txt>
      <LineKey x={329} y={672} color={ROC_RED} label={`${YEAR_NAMES[0]} (AUC = ${fAuc[0].toFixed(3)})`} />
      <LineKey x={329} y={683} color={ROC_GREEN} label={`${YEAR_NAMES[1]} (AUC = ${fAuc[1].toFixed(3)})`} />
      <LineKey x={329} y={694} color={ROC_NAVY} label={`${YEAR_NAMES[2]} (AUC = ${fAuc[2].toFixed(3)})`} />
      <Txt x={392} y={725} s={15}>(f)</Txt>

      {/* (g) ucec_tcga_pub */}
      <Txt x={145} y={753}>ucec_tcga_pub</Txt>
      <Chart f={fG1}>
        {boxAxes(fG1, pubDom, PUB_X_TICKS, [-0.38, 10.5], RISK_Y_TICKS, 11, 2)}
        <Line data={pts(pubLowX, pubLowY)} dataKey="y" type="monotone" stroke={BLUE} strokeWidth={2} dot={false} isAnimationActive={false} />
        <Line data={pts(pubHighX, pubHighY)} dataKey="y" type="monotone" stroke={ORANGE} strokeWidth={2} dot={false} isAnimationActive={false} />
        {cut(pubCut)}
        <ReferenceLine y={pubCut[1]} stroke="#000" strokeWidth={0.9} strokeDasharray="2 2" />
        {frameBox([-0.38, 10.5])}
      </Chart>
      <Txt x={7} y={806} rot>Risk score</Txt>
      <Txt x={145} y={878}>Patients (increasing risk score)</Txt>
      <DotKey x={43} y={894} color={ORANGE} label="High risk" />
      <DotKey x={43} y={906} color={BLUE} label="Low risk" />
      <Chart f={fG2}>
        {boxAxes(fG2, pubDom, PUB_X_TICKS, [-0.59, 16.17], SURV_Y_TICKS, 11, 2)}
        {cut(pubCut)}
        <Scatter data={pairs(pubAlive)} shape={sq(BLUE)} isAnimationActive={false} />
        <Scatter data={pairs(pubDead)} shape={sq(ORANGE)} isAnimationActive={false} />
        {frameBox([-0.59, 16.17])}
      </Chart>
      <Txt x={7} y={962} rot>Survival time (years)</Txt>
      <Txt x={145} y={1031}>Patients (increasing risk score)</Txt>
      <DotKey x={37} y={1055} color={ORANGE} label="Dead" />
      <DotKey x={37} y={1066.5} color={BLUE} label="Alive" />
      <Txt x={126} y={1097} s={15}>(g)</Txt>

      {/* (h) KM */}
      <KmPanel f={fH} xDom={[-0.8, 16.8]} xTicks={H_YEARS} high={km(hHighT, hHighS, hHighLo, hHighHi)} low={km(hLowT, hLowS, hLowLo, hLowHi)}
        highCens={pairs(hHighCens)} lowCens={pairs(hLowCens)} />
      <Txt x={295} y={893} s={8} rot>Survival probability</Txt>
      <Txt x={336} y={927} s={8} a="start">p&lt;0.001</Txt>
      <Txt x={423} y={972} s={8}>Time (year)</Txt>
      <RiskTable f={fHT} xDom={[-0.8, 16.8]} years={H_YEARS} highN={hAtRiskHigh} lowN={hAtRiskLow} yDom={[0.375, 2.625]} />
      <Txt x={283} y={998} s={8} rot>Risk</Txt>
      <Txt x={423} y={1029} s={8}>Time (year)</Txt>
      <Txt x={325} y={1042} s={8} a="start">Risk</Txt>
      <BandKey x={325} y={1053} fill={KM_RED_FILL} line={KM_RED} label="High risk" />
      <BandKey x={325} y={1066} fill={KM_NAVY_FILL} line={KM_NAVY} label="Low risk" />
      <Txt x={398} y={1095} s={15}>(h)</Txt>

      {/* (i) ROC */}
      <RocPanel f={fI} xDom={[-0.043, 1.043]} yDom={[-0.039, 1.039]} ym={2}
        reds={pts(iRedX, iRedY)} greens={pts(iGreenX, iGreenY)} navys={pts(iNavyX, iNavyY)} />
      <Txt x={20} y={1288} rot>True positive rate</Txt>
      <Txt x={143} y={1397}>False positive rate</Txt>
      <LineKey x={55} y={1415} color={ROC_RED} label={`${YEAR_NAMES[0]} (AUC = ${iAuc[0].toFixed(3)})`} />
      <LineKey x={55} y={1428} color={ROC_GREEN} label={`${YEAR_NAMES[1]} (AUC = ${iAuc[1].toFixed(3)})`} />
      <LineKey x={55} y={1440} color={ROC_NAVY} label={`${YEAR_NAMES[2]} (AUC = ${iAuc[2].toFixed(3)})`} />
      <Txt x={120} y={1470} s={15}>(i)</Txt>

      {/* (j) clinical specimens */}
      <Txt x={395} y={1124}>Clinical specimens</Txt>
      <Chart f={fJ1}>
        {boxAxes(fJ1, clinDom, CLIN_X_TICKS, [-0.12, 10.37], RISK_Y_TICKS, 11, 4)}
        <ReferenceLine y={clinCut[1]} stroke="#000" strokeWidth={0.9} strokeDasharray="2 2" />
        <Scatter data={clinLow} shape={sq(BLUE, 1.8)} isAnimationActive={false} />
        <Scatter data={clinHigh} shape={sq(ORANGE, 1.8)} isAnimationActive={false} />
        {frameBox([-0.12, 10.37])}
      </Chart>
      <Txt x={258} y={1180} rot>Risk score</Txt>
      <Txt x={396} y={1252}>Patients (increasing risk score)</Txt>
      <DotKey x={288} y={1268} color={ORANGE} label="High risk" />
      <DotKey x={288} y={1279.5} color={BLUE} label="Low risk" />
      <Chart f={fJ2}>
        {boxAxes(fJ2, clinDom, CLIN_X_TICKS, [-0.19, 5.25], CLIN_SURV_TICKS, 11, 4)}
        {cut(clinCut)}
        <Scatter data={clinAlive} shape={sq(BLUE, 1.8)} isAnimationActive={false} />
        <Scatter data={clinDeadPts} shape={sq(ORANGE, 1.8)} isAnimationActive={false} />
        {frameBox([-0.19, 5.25])}
      </Chart>
      <Txt x={258} y={1342} rot>Survival time (years)</Txt>
      <Txt x={396} y={1410}>Patients (increasing risk score)</Txt>
      <DotKey x={288} y={1429} color={ORANGE} label="Dead" />
      <DotKey x={288} y={1440.5} color={BLUE} label="Alive" />
      <Txt x={377} y={1469} s={15}>(j)</Txt>

      {/* (k) KM */}
      <KmPanel f={fK} xDom={[-0.25, 5.25]} xTicks={K_YEARS} high={km(kHighT, kHighS, kHighLo, kHighHi)} low={km(kLowT, kLowS, kLowLo, kLowHi)}
        highCens={pairs(kHighCens)} lowCens={pairs(kLowCens)} />
      <Txt x={32} y={1574} s={8} rot>Survival probability</Txt>
      <Txt x={73} y={1609} s={8} a="start">p&lt;0.001</Txt>
      <Txt x={161} y={1658} s={8}>Time (year)</Txt>

      {/* (l) ROC: its x axis falls below the page edge */}
      <RocPanel f={fL} xDom={[-0.04, 1.006]} yDom={[-0.034, 1.028]} ym={6} yTicks={ROC_TICKS_CUT} hideX
        reds={pts(lRedX, lRedY)} greens={pts(lGreenX, lGreenY)} navys={pts(lNavyX, lNavyY)} />
      <Txt x={289} y={1587} rot>True positive rate</Txt>
    </div>
  );
}
